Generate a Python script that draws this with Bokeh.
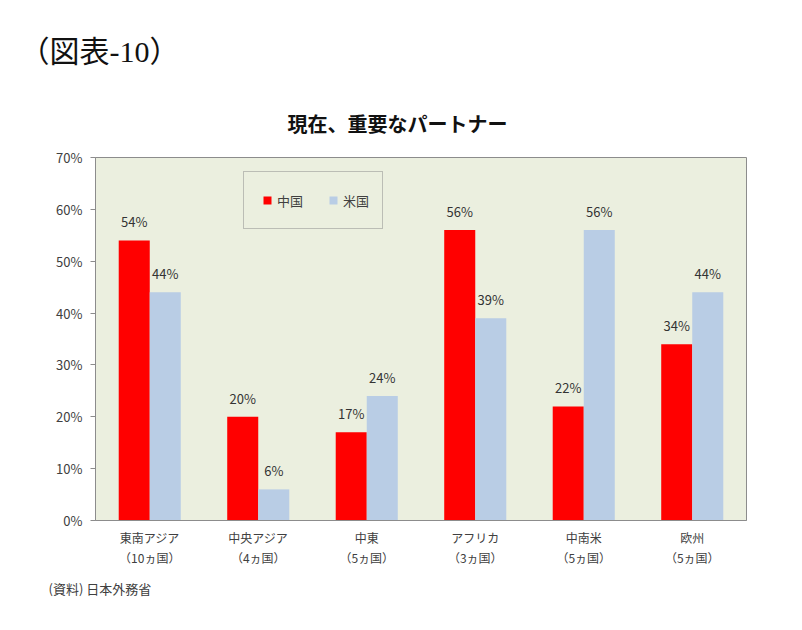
from bokeh.plotting import figure
from bokeh.models import ColumnDataSource, FactorRange, Range1d, Legend, LegendItem, Title, PrintfTickFormatter, FixedTicker
from bokeh.transform import dodge
from bokeh.core.properties import value
from bokeh.embed import file_html
from bokeh.resources import INLINE

categories = ["東南アジア\n（10ヵ国）", "中央アジア\n（4ヵ国）", "中東\n（5ヵ国）",
              "アフリカ\n（3ヵ国）", "中南米\n（5ヵ国）", "欧州\n（5ヵ国）"]
china = [54, 20, 17, 56, 22, 34]
usa = [44, 6, 24, 39, 56, 44]
y_ticks = [0, 10, 20, 30, 40, 50, 60, 70]
series_names = ["中国", "米国"]

FONT = "Noto Sans CJK JP"
RED = "#FF0000"
BLUE = "#B9CDE5"
BG = "#EBEFDF"

src = ColumnDataSource(dict(
    cat=categories, china=china, usa=usa,
    china_lbl=[f"{v}%" for v in china],
    usa_lbl=[f"{v}%" for v in usa],
))

p = figure(width=786, height=614, x_range=FactorRange(factors=categories),
           y_range=Range1d(0, 70), output_backend="svg", toolbar_location=None,
           min_border_left=95, min_border_right=40, min_border_top=157, min_border_bottom=94)
p.background_fill_color = BG
p.border_fill_color = "white"
p.outline_line_color = "#8C8C8C"
p.outline_line_width = 1
p.xgrid.visible = False
p.ygrid.visible = False
p.x_range.range_padding = 0
p.x_range.group_padding = 0

bw = 0.286
p.vbar(x=dodge("cat", -bw / 2, range=p.x_range), top="china", width=bw, bottom=0,
       source=src, fill_color=RED, line_color=None)
p.vbar(x=dodge("cat", bw / 2, range=p.x_range), top="usa", width=bw, bottom=0,
       source=src, fill_color=BLUE, line_color=None)

for field, off, top in (("china_lbl", -bw / 2, "china"), ("usa_lbl", bw / 2, "usa")):
    p.text(x=dodge("cat", off, range=p.x_range), y=top, text=field, source=src,
           text_font=value(FONT), text_font_size="13px", text_color="#333333",
           text_align="center", text_baseline="bottom", y_offset=-9)

# legend-only renderers (hidden markers on the same data)
r1 = p.scatter(x=dodge("cat", -bw / 2, range=p.x_range), y="china", source=src,
               marker="square", fill_color=RED, line_color=None, size=8, visible=False)
r2 = p.scatter(x=dodge("cat", bw / 2, range=p.x_range), y="usa", source=src,
               marker="square", fill_color=BLUE, line_color=None, size=8, visible=False)
legend = Legend(items=[LegendItem(label=series_names[0], renderers=[r1]),
                       LegendItem(label=series_names[1], renderers=[r2])],
                orientation="horizontal", location=(148, 291),
                glyph_width=20, glyph_height=30, label_standoff=0, spacing=20,
                padding=13, margin=0, label_text_font=FONT, label_text_font_size="13px",
                label_text_color="#404040", border_line_color="#8C8C8C",
                background_fill_color=BG, background_fill_alpha=1.0,
                inactive_fill_alpha=0.0)
p.add_layout(legend, "center")

# axes
p.yaxis.ticker = FixedTicker(ticks=y_ticks)
p.yaxis.formatter = PrintfTickFormatter(format="%d%%")
p.yaxis.major_label_text_font = FONT
p.yaxis.major_label_text_font_size = "13px"
p.yaxis.major_label_text_color = "#404040"
p.yaxis.axis_line_color = "#8C8C8C"
p.yaxis.major_tick_line_color = "#8C8C8C"
p.yaxis.major_tick_out = 5
p.yaxis.major_tick_in = 0
p.yaxis.minor_tick_line_color = None
p.yaxis.major_label_standoff = 8

p.xaxis.major_label_text_font = FONT
p.xaxis.major_label_text_font_size = "12px"
p.xaxis.major_label_text_color = "#404040"
p.xaxis.axis_line_color = "#8C8C8C"
p.xaxis.major_tick_line_color = None
p.xaxis.minor_tick_line_color = None
p.xaxis.major_label_standoff = 2
p.xaxis.major_label_text_line_height = 1.2

# titles
p.add_layout(Title(text="現在、重要なパートナー", align="left", offset=192,
                   text_font=FONT, text_font_size="20px", text_font_style="bold",
                   text_color="#111111", standoff=40), "above")
p.add_layout(Title(text="（図表-10）", align="left", offset=-76,
                   text_font="Liberation Serif, Noto Sans CJK JP", text_font_size="30px",
                   text_font_style="normal", text_color="#111111", standoff=38), "above")
p.add_layout(Title(text="(資料) 日本外務省", align="left", offset=-47,
                   text_font=FONT, text_font_size="13px", text_font_style="normal",
                   text_color="#404040", standoff=16), "below")

open("out.html", "w").write(file_html(p, INLINE))
